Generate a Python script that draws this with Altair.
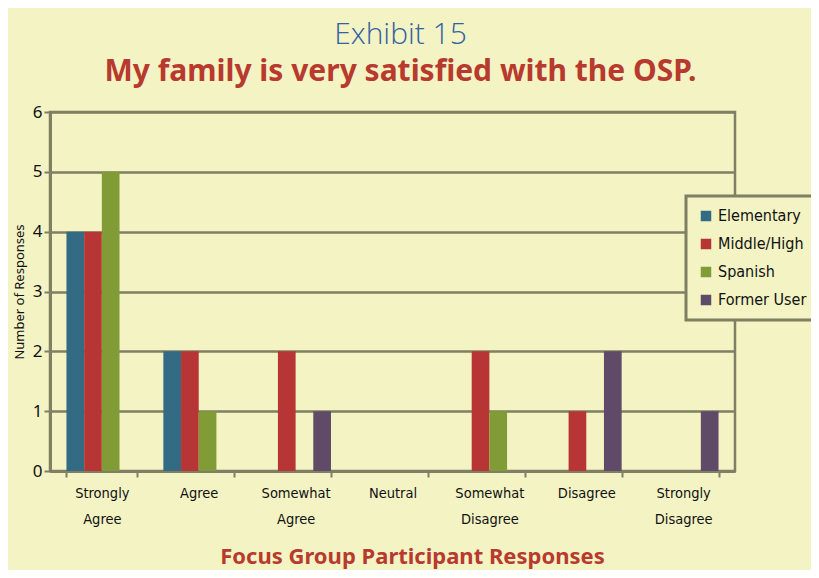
import altair as alt
import pandas as pd

categories = ["Strongly Agree", "Agree", "Somewhat Agree", "Neutral",
              "Somewhat Disagree", "Disagree", "Strongly Disagree"]
groups = ["Elementary", "Middle/High", "Spanish", "Former User"]
elementary = [4, 2, 0, 0, 0, 0, 0]
middle_high = [4, 2, 2, 0, 2, 1, 0]
spanish = [5, 1, 0, 0, 1, 0, 0]
former_user = [0, 0, 1, 0, 0, 2, 1]
colors = ["#336B85", "#B83535", "#819B36", "#5F4A68"]

rows = []
for g, vals in zip(groups, [elementary, middle_high, spanish, former_user]):
    for c, v in zip(categories, vals):
        rows.append({"category": c, "group": g, "value": v})
df = pd.DataFrame(rows)

BG = "#F3F3C4"
GRID = "#7F7F63"
LABEL_FONT = "DejaVu Sans Condensed, Roboto, sans-serif"

chart = alt.Chart(df).mark_bar().encode(
    x=alt.X("category:N", sort=categories,
            scale=alt.Scale(paddingInner=0.27, paddingOuter=0.17),
            axis=alt.Axis(title="Focus Group Participant Responses",
                          labelAngle=0, labelExpr="split(datum.label, ' ')",
                          labelFont=LABEL_FONT, labelFontSize=14.5, labelColor="#111111",
                          labelPadding=9, labelLineHeight=26,
                          tickBand="extent", tickSize=6, tickColor=GRID, tickWidth=2,
                          domainColor=GRID, domainWidth=3,
                          titleFont="Noto Sans", titleFontSize=22, titleFontWeight="bold",
                          titleColor="#B83A2E", titlePadding=21, titleX=362)),
    xOffset=alt.XOffset("group:N", sort=groups, scale=alt.Scale(paddingInner=0, paddingOuter=0)),
    y=alt.Y("value:Q", scale=alt.Scale(domain=[0, 6]),
            axis=alt.Axis(title="Number of Responses", values=[0, 1, 2, 3, 4, 5, 6],
                          format="d", labelFont="Noto Sans", labelFontSize=17,
                          labelColor="#111111", labelPadding=2,
                          tickSize=6, tickColor=GRID, tickWidth=2,
                          domainColor=GRID, domainWidth=3,
                          gridColor=GRID, gridWidth=2.5, gridOpacity=1,
                          titleFont="Noto Sans", titleFontSize=13, titleFontWeight="normal",
                          titleColor="#111111", titlePadding=6)),
    color=alt.Color("group:N", sort=groups,
                    scale=alt.Scale(domain=groups, range=colors),
                    legend=alt.Legend(title=None, orient="none", legendX=636, legendY=84,
                                      symbolType="square", symbolSize=110,
                                      symbolStrokeWidth=0, labelFont=LABEL_FONT,
                                      labelFontSize=16, labelColor="#111111",
                                      rowPadding=12, padding=12,
                                      fillColor=BG, strokeColor=GRID)),
).properties(
    width=685, height=359,
    autosize=alt.AutoSizeParams(type="none"),
    padding={"left": 42, "top": 104, "right": 76, "bottom": 99},
    title=alt.TitleParams(text="Exhibit 15", subtitle="My family is very satisfied with the OSP.",
                          anchor="middle", font="Open Sans", fontSize=30, fontWeight=300,
                          color="#3262A0", subtitleFont="Noto Sans", subtitleFontSize=30,
                          subtitleFontWeight="bold", subtitleColor="#B83A2E",
                          subtitlePadding=7, offset=16, dx=8),
).configure(background=BG).configure_view(stroke=GRID, strokeWidth=2.5
).configure_legend(strokeWidth=3)

chart.save("out.html", embed_options={"renderer": "svg", "actions": False})
